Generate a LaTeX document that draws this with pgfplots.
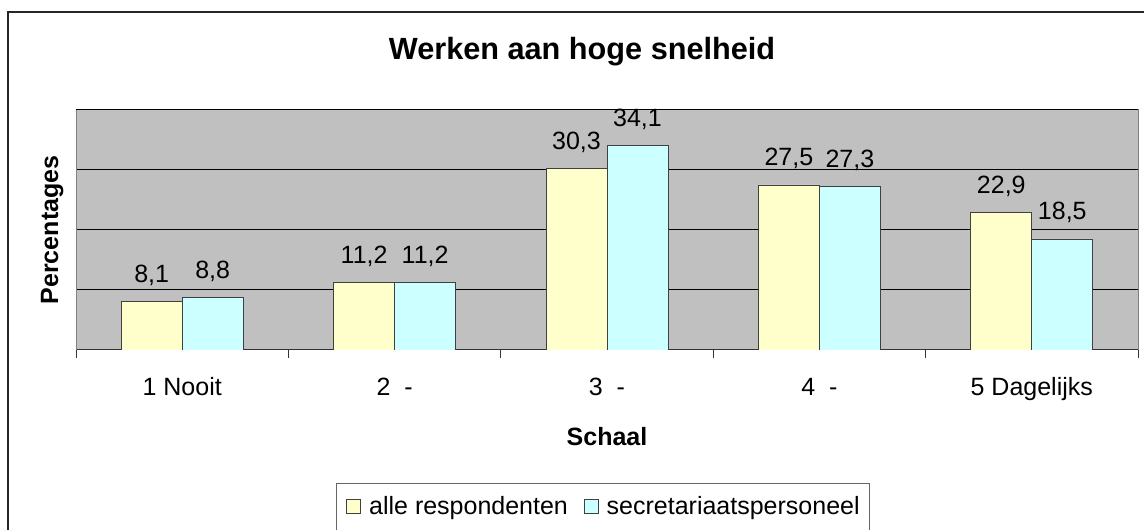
\documentclass[border=0pt]{standalone}
\usepackage{pgfplots}
\pgfplotsset{compat=1.18}
\usepackage{fontspec}
\setmainfont{Liberation Sans}
\definecolor{plotbg}{HTML}{C0C0C0}
\definecolor{barA}{HTML}{FFFFCC}
\definecolor{barB}{HTML}{CCFFFF}
\newcommand\lbl{\fontsize{18.75}{22}\selectfont}
\begin{document}
\begin{tikzpicture}
\useasboundingbox (0,0) rectangle (858pt,397.5pt);
\fill[white] (0,0) rectangle (858pt,397.5pt);
\draw[line width=1.1pt, black!85] (6pt,-5pt) -- (6pt,388.5pt) -- (870pt,388.5pt);
\begin{axis}[
  at={(57pt,135pt)}, anchor=south west,
  scale only axis, width=796.5pt, height=180pt,
  xmin=-0.5, xmax=4.5, ymin=0, ymax=40,
  enlargelimits=false,
  axis x line*=bottom, axis y line*=left,
  axis line style={-},
  x axis line style={black!80, line width=0.75pt},
  y axis line style={draw=black!50, line width=0.75pt},
  axis background/.style={fill=plotbg, draw=black!50, line width=0.75pt},
  ytick={0,10,20,30,40}, yticklabels={},
  ymajorgrids, grid style={black, line width=0.75pt},
  xtick={0,1,2,3,4},
  xticklabels={1 Nooit, 2\ \ -, 3\ \ -, 4\ \ -, 5 Dagelijks},
  minor xtick={-0.5,0.5,1.5,2.5,3.5,4.5},
  major tick length=0pt, minor tick length=6pt, tick align=outside,
  minor tick style={black!80, line width=0.75pt},
  xticklabel style={font=\lbl, anchor=base, yshift=-34.5pt},
  title={Werken aan hoge snelheid},
  title style={at={(axis description cs:0.4765,1)}, anchor=base, yshift=31.5pt, font=\bfseries\fontsize{23}{27}\selectfont},
  xlabel={Schaal},
  xlabel style={at={(axis description cs:0.5,0)}, anchor=base, yshift=-72pt, font=\bfseries\lbl},
  ylabel={Percentages},
  ylabel style={at={(axis description cs:-0.0225,0.5)}, anchor=center, font=\bfseries\lbl},
  ybar=0pt, bar width=45.75pt,
  /pgf/number format/.cd, use comma, fixed, fixed zerofill, precision=1, assume math mode=true,
  /pgfplots/.cd,
  nodes near coords,
  every node near coord/.append style={font=\lbl, anchor=base, yshift=14.25pt, text=black},
  legend columns=2,
  legend style={at={(axis description cs:0.2448,-0.5542)}, anchor=north west,
    draw=black!60, line width=0.6pt, font=\lbl,
    inner xsep=7.5pt, inner ysep=10pt,
    nodes={inner sep=0pt},
    /tikz/every odd column/.append style={column sep=6pt},
    /tikz/every even column/.append style={column sep=12pt}},
  legend image code/.code={\draw[#1, line width=0.6pt] (0pt,-5.25pt) rectangle (10.5pt,5.25pt);},
]
\addplot[fill=barA, draw=black!75, line width=0.6pt] coordinates {(0,8.1) (1,11.2) (2,30.3) (3,27.5) (4,22.9)};
\addplot[fill=barB, draw=black!75, line width=0.6pt] coordinates {(0,8.8) (1,11.2) (2,34.1) (3,27.3) (4,18.5)};
\legend{alle respondenten, secretariaatspersoneel}
\end{axis}
\end{tikzpicture}
\end{document}
